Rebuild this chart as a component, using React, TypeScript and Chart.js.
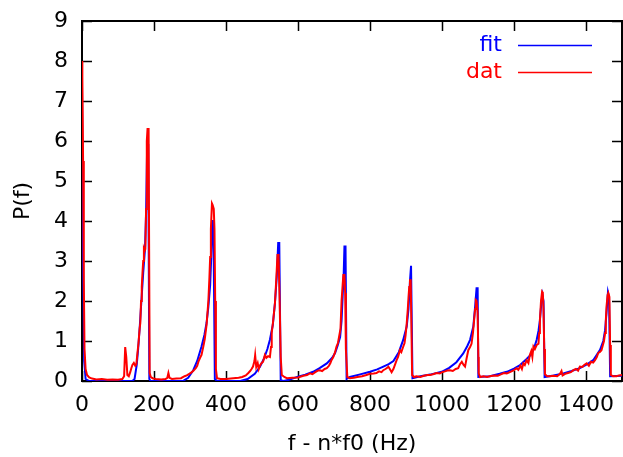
import React, { useEffect, useRef } from "react";
import { Chart, registerables } from "chart.js";

Chart.register(...registerables);

// fit curve (Hz, P)
const fitFreq = [
  0, 3, 6, 10, 20, 140, 146, 152, 156, 160, 165, 170, 175, 178, 181, 184, 187, 190,
  280, 295, 309, 320, 332, 340, 346, 351, 356, 359, 362, 365, 369, 375,
  440, 460, 480, 494, 505, 515, 522, 530, 536, 541, 545, 548, 552, 560,
  575, 600, 620, 642, 660, 680, 695, 703, 710, 717, 721, 724, 727, 729, 732, 735,
  744, 770, 800, 820, 837, 852, 865, 880, 892, 902, 907, 911, 914, 916, 918,
  940, 967, 999, 1020, 1040, 1059, 1070, 1078, 1087, 1092, 1096, 1099, 1101,
  1133, 1160, 1180, 1200, 1217, 1235, 1244, 1255, 1263, 1268, 1272, 1276, 1279, 1282, 1285,
  1310, 1337, 1360, 1383, 1400, 1420, 1439, 1448, 1453, 1457, 1461, 1464, 1467, 1500,
];
const fitPower = [
  7.4, 3.0, 0.5, 0.05, 0.0, 0.0, 0.05, 0.4, 0.8, 1.3, 2.0, 2.7, 3.3, 4.2, 5.9, 5.9, 0.05, 0.0,
  0.0, 0.08, 0.27, 0.5, 0.86, 1.15, 1.45, 1.85, 2.4, 3.1, 4.0, 4.0, 0.05, 0.0,
  0.0, 0.05, 0.18, 0.35, 0.55, 0.8, 1.03, 1.4, 1.95, 2.6, 3.45, 3.45, 0.02, 0.0,
  0.03, 0.11, 0.16, 0.23, 0.32, 0.44, 0.58, 0.7, 0.88, 1.1, 1.5, 2.1, 2.7, 3.36, 3.36, 0.05,
  0.1, 0.16, 0.23, 0.29, 0.36, 0.42, 0.5, 0.72, 1.02, 1.36, 1.8, 2.5, 2.88, 2.88, 0.07,
  0.12, 0.16, 0.23, 0.33, 0.47, 0.69, 0.87, 1.03, 1.36, 1.86, 2.32, 2.32, 0.1,
  0.12, 0.18, 0.23, 0.31, 0.4, 0.55, 0.63, 0.8, 1.03, 1.25, 1.52, 1.95, 2.15, 2.0, 0.1,
  0.14, 0.19, 0.25, 0.32, 0.4, 0.52, 0.78, 1.0, 1.27, 1.7, 2.22, 2.1, 0.12, 0.13,
];

// measured data (Hz, P)
const datFreq = [
  0, 1, 3, 5, 7, 10, 14, 20, 28, 40, 55, 70, 85, 100, 112, 117, 120, 123, 126, 130, 134, 137, 140,
  144, 148, 151, 154, 157, 160, 162, 164, 166, 168, 170, 172, 174, 176, 178, 180, 182, 185, 188,
  191, 196, 205, 220, 232, 237, 240, 243, 250, 262, 275, 285, 291, 298, 305, 310, 316, 320, 324,
  328, 332, 337, 341, 346, 351, 354, 356, 358, 361, 363, 366, 368, 370, 372, 375, 385, 400, 420,
  435, 445, 455, 462, 467, 471, 475, 479, 481, 484, 488, 491, 494, 499, 503, 508, 512, 517, 522,
  525, 527, 531, 536, 540, 543, 546, 549, 552, 555, 562, 569, 585, 600, 615, 625, 633, 640, 648,
  655, 661, 667, 674, 680, 686, 690, 693, 698, 703, 707, 711, 715, 718, 721, 724, 726, 729, 731,
  733, 737, 744, 755, 765, 778, 790, 800, 810, 818, 825, 832, 837, 843, 848, 851, 855, 860, 865,
  870, 874, 878, 883, 887, 892, 896, 899, 902, 905, 907, 909, 911, 913, 915, 917, 922, 929, 940,
  950, 960, 967, 975, 985, 994, 1000, 1008, 1015, 1022, 1030, 1038, 1045, 1050, 1055, 1060, 1064,
  1068, 1073, 1078, 1082, 1086, 1090, 1092, 1094, 1096, 1099, 1101, 1102, 1106, 1115, 1125, 1133,
  1145, 1155, 1165, 1172, 1180, 1190, 1200, 1207, 1212, 1218, 1222, 1226, 1230, 1235, 1240, 1244,
  1248, 1251, 1254, 1258, 1263, 1268, 1270, 1272, 1275, 1278, 1280, 1282, 1284, 1286, 1292, 1300,
  1310, 1320, 1328, 1332, 1335, 1342, 1350, 1358, 1365, 1372, 1378, 1383, 1390, 1395, 1402, 1408,
  1414, 1420, 1425, 1430, 1434, 1438, 1443, 1447, 1450, 1453, 1455, 1457, 1460, 1462, 1465, 1467,
  1469, 1475, 1485, 1492, 1500,
];
const datPower = [
  8.0, 7.6, 5.5, 2.5, 0.8, 0.3, 0.15, 0.09, 0.06, 0.04, 0.05, 0.03, 0.04, 0.03, 0.05, 0.12, 0.85, 0.6, 0.15, 0.12, 0.22, 0.32, 0.4,
  0.45, 0.38, 0.42, 0.7, 0.95, 1.3, 1.45, 2.0, 2.35, 2.7, 3.0, 3.3, 3.25, 3.3, 4.3, 6.0, 6.3, 6.3, 0.2,
  0.1, 0.07, 0.05, 0.04, 0.05, 0.08, 0.2, 0.08, 0.05, 0.06, 0.07, 0.12, 0.14, 0.18, 0.22, 0.26, 0.32, 0.38, 0.5,
  0.58, 0.65, 0.86, 1.05, 1.4, 2.0, 2.6, 3.1, 3.8, 4.44, 4.4, 4.3, 3.8, 2.0, 0.3, 0.07, 0.05, 0.05, 0.07,
  0.08, 0.1, 0.14, 0.2, 0.25, 0.3, 0.36, 0.5, 0.65, 0.35, 0.45, 0.3, 0.38, 0.45, 0.48, 0.65, 0.58, 0.62, 0.6,
  0.85, 1.2, 1.5, 1.95, 2.6, 3.15, 3.15, 2.0, 0.6, 0.15, 0.1, 0.07, 0.08, 0.09, 0.13, 0.15, 0.19, 0.17, 0.22,
  0.26, 0.27, 0.25, 0.3, 0.32, 0.38, 0.45, 0.52, 0.6, 0.72, 0.86, 0.95, 1.15, 1.3, 2.0, 2.4, 2.65, 2.65, 2.2,
  0.8, 0.1, 0.07, 0.08, 0.1, 0.12, 0.15, 0.18, 0.19, 0.2, 0.24, 0.22, 0.27, 0.3, 0.33, 0.36, 0.3, 0.22, 0.3,
  0.42, 0.52, 0.6, 0.77, 0.72, 0.85, 0.95, 1.15, 1.44, 1.8, 2.1, 2.35, 2.52, 2.52, 1.4, 0.15, 0.1, 0.12, 0.1,
  0.13, 0.15, 0.15, 0.17, 0.2, 0.19, 0.22, 0.24, 0.26, 0.27, 0.25, 0.3, 0.32, 0.42, 0.48, 0.4, 0.36,
  0.55, 0.77, 0.85, 0.93, 1.2, 1.6, 1.8, 2.02, 2.0, 1.7, 0.6, 0.19, 0.1, 0.12, 0.1, 0.12,
  0.14, 0.13, 0.17, 0.2, 0.19, 0.23, 0.27, 0.32, 0.28, 0.38, 0.3, 0.44, 0.4, 0.52, 0.45, 0.65,
  0.75, 0.6, 0.86, 0.8, 0.9, 0.93, 1.2, 1.52, 2.0, 2.23, 2.2, 1.8, 0.8, 0.17, 0.12, 0.12,
  0.13, 0.12, 0.18, 0.25, 0.14, 0.18, 0.2, 0.22, 0.27, 0.3, 0.26, 0.36, 0.35, 0.4, 0.44, 0.38,
  0.48, 0.46, 0.52, 0.6, 0.7, 0.72, 0.77, 0.9, 1.0, 1.2, 1.5, 1.86, 2.15, 2.2, 2.1, 0.9,
  0.15, 0.12, 0.12, 0.14, 0.15,
];

const xTickValues = [0, 200, 400, 600, 800, 1000, 1200, 1400];
const yTickValues = [0, 1, 2, 3, 4, 5, 6, 7, 8, 9];
const seriesLabels = ["fit", "dat"];
const seriesColors = ["#0000ff", "#ff0000"];
const FONT = "'DejaVu Sans', sans-serif";

const framePlugin = {
  id: "gnuframe",
  beforeDatasetsDraw(chart: any) {
    const { ctx, chartArea } = chart;
    const { left, right, top, bottom } = chartArea;
    const xs = chart.scales.x;
    const ys = chart.scales.y;
    ctx.save();
    ctx.strokeStyle = "#000";
    ctx.lineWidth = 1.5;
    ctx.beginPath();
    const tl = 10;
    xTickValues.forEach((v) => {
      const px = Math.round(xs.getPixelForValue(v)) + 0.5;
      ctx.moveTo(px, bottom);
      ctx.lineTo(px, bottom - tl);
      ctx.moveTo(px, top);
      ctx.lineTo(px, top + tl);
    });
    yTickValues.forEach((v) => {
      const py = Math.round(ys.getPixelForValue(v)) + 0.5;
      ctx.moveTo(left, py);
      ctx.lineTo(left + tl, py);
      ctx.moveTo(right, py);
      ctx.lineTo(right - tl, py);
    });
    ctx.stroke();
    ctx.lineWidth = 2;
    ctx.strokeRect(left, top, right - left, bottom - top);
    ctx.restore();
  },
  afterDatasetsDraw(chart: any) {
    const { ctx } = chart;
    ctx.save();
    ctx.font = `22px ${FONT}`;
    ctx.textAlign = "right";
    ctx.textBaseline = "middle";
    const rows = [45, 72];
    seriesLabels.forEach((lab, i) => {
      ctx.fillStyle = seriesColors[i];
      ctx.fillText(lab, 502, rows[i]);
      ctx.strokeStyle = seriesColors[i];
      ctx.lineWidth = 1.5;
      ctx.beginPath();
      ctx.moveTo(518, rows[i] + 0.5);
      ctx.lineTo(592, rows[i] + 0.5);
      ctx.stroke();
    });
    ctx.restore();
  },
};

const zeroPad = (s: any) => {
  s.paddingTop = 0;
  s.paddingBottom = 0;
  s.paddingLeft = 0;
  s.paddingRight = 0;
};

export default function App() {
  const ref = useRef<HTMLCanvasElement | null>(null);
  useEffect(() => {
    document.body.style.margin = "0";
    const canvas = ref.current!;
    const chart = new Chart(canvas, {
      type: "line",
      data: {
        datasets: [
          {
            label: seriesLabels[0],
            data: fitFreq.map((f, i) => ({ x: f, y: fitPower[i] })),
            borderColor: seriesColors[0],
            borderWidth: 2,
            pointRadius: 0,
            tension: 0,
            order: 2,
          },
          {
            label: seriesLabels[1],
            data: datFreq.map((f, i) => ({ x: f, y: datPower[i] })),
            borderColor: seriesColors[1],
            borderWidth: 2,
            pointRadius: 0,
            tension: 0,
            order: 1,
          },
        ],
      },
      options: {
        animation: false,
        responsive: false,
        devicePixelRatio: 1,
        layout: { padding: { top: 21, right: 1, left: 0, bottom: 0 } },
        plugins: { legend: { display: false }, tooltip: { enabled: false } },
        scales: {
          x: {
            type: "linear",
            min: 0,
            max: 1500,
            grid: { display: false, drawTicks: false },
            border: { display: false },
            ticks: {
              stepSize: 200,
              includeBounds: false,
              color: "#000",
              padding: 11,
              maxRotation: 0,
              autoSkip: false,
              font: { family: FONT, size: 22 },
              callback: (v: any) => String(v),
            },
            title: {
              display: true,
              text: "f - n*f0 (Hz)",
              color: "#000",
              font: { family: FONT, size: 22 },
              padding: { top: 0, bottom: 0 },
            },
            afterFit: (s: any) => {
              s.height = 76;
              zeroPad(s);
            },
          },
          y: {
            type: "linear",
            min: 0,
            max: 9,
            grid: { display: false, drawTicks: false },
            border: { display: false },
            ticks: {
              stepSize: 1,
              color: "#000",
              padding: 14,
              autoSkip: false,
              font: { family: FONT, size: 22 },
              callback: (v: any) => String(v),
            },
            title: {
              display: true,
              text: "P(f)",
              color: "#000",
              font: { family: FONT, size: 22 },
              padding: { top: 10, bottom: 0 },
            },
            afterFit: (s: any) => {
              s.width = 82;
              zeroPad(s);
            },
          },
        },
      },
      plugins: [framePlugin],
    });
    return () => chart.destroy();
  }, []);
  return (
    <div style={{ width: 623, height: 457 }}>
      <canvas ref={ref} width={623} height={457} style={{ display: "block", width: 623, height: 457 }} />
    </div>
  );
}
